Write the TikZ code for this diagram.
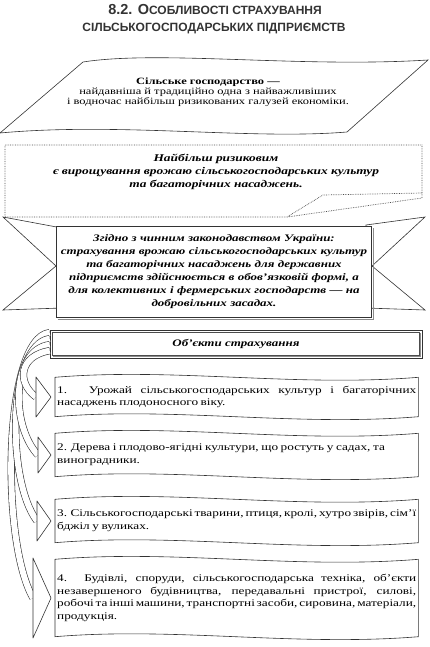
\documentclass[tikz,border=0pt]{standalone}
\usepackage{fontspec}
\setmainfont{Liberation Serif}[FakeStretch=1.3]
\newfontfamily\titlefont{Liberation Sans}
\usetikzlibrary{calc}

\newcommand\tightspace{\spaceskip=.25em plus .4em minus .14em\relax}
\newcommand\wavebox[1]{%
    \draw[line width=0.6pt, black!80] (#1.north west)
        .. controls ($(#1.north west)!0.33!(#1.north east)+(0,-10)$) and ($(#1.north west)!0.66!(#1.north east)+(0,10)$) .. (#1.north east)
        -- (#1.south east)
        .. controls ($(#1.south west)!0.66!(#1.south east)+(0,10)$) and ($(#1.south west)!0.33!(#1.south east)+(0,-10)$) .. (#1.south west)
        -- cycle;}

\begin{document}
\begin{tikzpicture}[x=1pt, y=-1pt,
    flagtext/.style={align=center, font=\fontsize{9.6}{10.2}\selectfont},
    boldit/.style={align=center},
    itembox/.style={anchor=west, text width=359pt, align=justify, inner xsep=2pt, inner ysep=0pt,
        font=\fontsize{10.2}{12.6}\selectfont\tightspace},
    band/.style={draw=black!80, double=white, double distance=6pt, line width=0.6pt},
    head/.style={draw=black!80, fill=white, line width=0.6pt, line join=round}
]
    \useasboundingbox (0,0) rectangle (429,647);

    % Заголовок
    \node[font=\titlefont\bfseries, text=black!80] (title1) at (215,10) {{\fontsize{14.5}{15}\selectfont 8.2. О}{\fontsize{12}{12}\selectfont СОБЛИВОСТІ СТРАХУВАННЯ}};
    \node[font=\titlefont\bfseries\fontsize{12}{12}\selectfont, text=black!80] (title2) at (214,29) {СІЛЬСЬКОГОСПОДАРСЬКИХ ПІДПРИЄМСТВ};

    % Прапор
    \draw[line width=0.6pt, black!80] (83,62) .. controls (160,50) and (300,68) .. (428,60)
        -- (347,132) .. controls (250,140) and (120,122) .. (0,133) -- cycle;
    \node[flagtext] (agri) at (208,92) {\textbf{Сільське господарство —}\\
        найдавніша й традиційно одна з найважливіших\\
        і водночас найбільш ризикованих галузей економіки.};

    % Пунктирна виноска
    \draw[densely dotted, line width=0.7pt, black!70] (5,145) -- (422,145) -- (422,198) -- (287,217) -- (5,217) -- cycle;
    \draw[densely dotted, line width=0.7pt, black!70] (422,193) -- (323,195) -- (287,217);
    \node[boldit, font=\fontsize{10.3}{12.8}\selectfont\bfseries\itshape] (risk) at (216,172) {Найбільш ризиковим\\
        є вирощування врожаю сільськогосподарських культур\\
        та багаторічних насаджень.};

    % Стрічка
    \draw[line width=0.6pt, black!80, fill=white] (3,217) -- (62,228) -- (62,308) -- (3,310) -- (56,266) -- cycle;
    \draw[line width=0.6pt, black!80, fill=white] (425,217) -- (366,225) -- (366,308) -- (425,310) -- (372,266) -- cycle;
    \node[boldit, font=\fontsize{10}{13}\selectfont\bfseries\itshape, draw=black!80, line width=0.6pt, fill=white, minimum width=312pt, minimum height=91pt, text width=308pt] (law) at (214,272)
        {Згідно з чинним законодавством України:\\
        страхування врожаю сільськогосподарських культур\\
        та багаторічних насаджень для державних\\
        підприємств здійснюється в обов'язковій формі, а\\
        для колективних і фермерських господарств — на\\
        добровільних засадах.};
    \draw[black!45, line width=1.2pt] ($(law.south west)+(2,2)$) -- ($(law.south east)+(2,2)$) -- ($(law.north east)+(2,2)$);

    % Об'єкти страхування
    \node[boldit, font=\fontsize{10}{12}\selectfont\bfseries\itshape, draw=black!80, line width=0.7pt, minimum width=372pt, minimum height=28pt] (objects) at (236,344) {Об'єкти страхування};
    \draw[black!70, line width=0.5pt] ($(objects.north west)+(3,3)$) rectangle ($(objects.south east)+(-3,-3)$);
    \draw[black!45, line width=1.2pt] ($(objects.south west)+(3,-2)$) -- ($(objects.south east)+(-2,-2)$) -- ($(objects.north east)+(-2,3)$);

    \node[itembox, minimum height=39pt] (item1) at (55,397) {1. Урожай сільськогосподарських культур і багаторічних\linebreak насаджень плодоносного віку.};
    \node[itembox, minimum height=43pt] (item2) at (55,455) {2. Дерева і плодово-ягідні культури, що ростуть у садах, та\\ виноградники.};
    \node[itembox, minimum height=43pt] (item3) at (55,521) {3. Сільськогосподарські тварини, птиця, кролі, хутро звірів, сім'ї\linebreak бджіл у вуликах.};
    \node[itembox, minimum height=77pt] (item4) at (55,598) {4. Будівлі, споруди, сільськогосподарська техніка, об'єкти\linebreak незавершеного будівництва, передавальні пристрої, силові,\linebreak робочі та інші машини, транспортні засоби, сировина, матеріали,\linebreak продукція.};
    \foreach \k in {1,...,4} {\wavebox{item\k}}

    % Стрілки
    \foreach \k/\s/\l/\h/\a/\b/\c/\d in {4/3/18/40/-46/5/-33/-58, 3/9/14/20/-42/6/-31/-41, 2/15/13/18/-38/5/-28/-30, 1/21/15/20/-30/5/-20/-15} {
        \draw[band] ($(objects.north west)+(0,\s)$) .. controls +(\a,\b) and +(\c,\d) .. ($(item\k.west)+(-4-\l,0)$);
        \draw[head] ($(item\k.west)+(-4,0)$) -- ++(-\l,-\h) -- ++(0,{2*\h}) -- cycle;
    }
\end{tikzpicture}
\end{document}
